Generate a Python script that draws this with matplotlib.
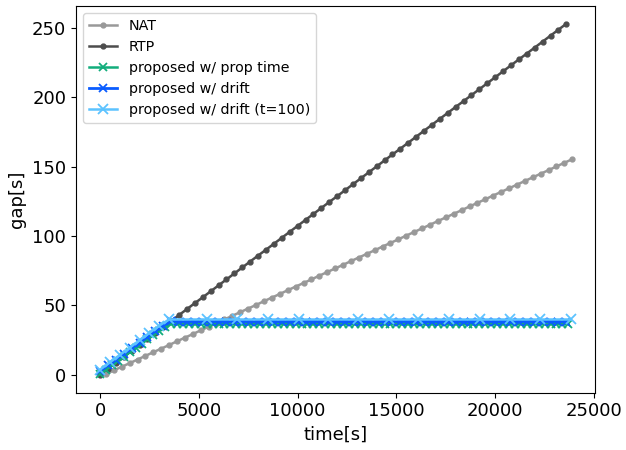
import matplotlib
matplotlib.use("Agg")
import matplotlib.pyplot as plt

# ---- data ----
rtp_t = [0, 400, 800, 1200, 1600, 2000, 2400, 2800, 3200, 3600, 4000, 4400, 4800, 5200, 5600,
         6000, 6400, 6800, 7200, 7600, 8000, 8400, 8800, 9200, 9600, 10000, 10400, 10800, 11200, 11600,
         12000, 12400, 12800, 13200, 13600, 14000, 14400, 14800, 15200, 15600, 16000, 16400, 16800, 17200, 17600,
         18000, 18400, 18800, 19200, 19600, 20000, 20400, 20800, 21200, 21600, 22000, 22400, 22800, 23200, 23600]
rtp_y = [0, 4.3, 8.6, 12.9, 17.2, 21.4, 25.7, 30.0, 34.3, 38.6, 42.9, 47.2, 51.5, 55.7, 60.0,
         64.3, 68.6, 72.9, 77.2, 81.5, 85.8, 90.0, 94.3, 98.6, 102.9, 107.2, 111.5, 115.8, 120.1, 124.4,
         128.6, 132.9, 137.2, 141.5, 145.8, 150.1, 154.4, 158.7, 162.9, 167.2, 171.5, 175.8, 180.1, 184.4, 188.7,
         193.0, 197.2, 201.5, 205.8, 210.1, 214.4, 218.7, 223.0, 227.3, 231.5, 235.8, 240.1, 244.4, 248.7, 253.0]

nat_t = [300, 700, 1100, 1500, 1900, 2300, 2700, 3100, 3500, 3900, 4300, 4700, 5100, 5500, 5900,
         6300, 6700, 7100, 7500, 7900, 8300, 8700, 9100, 9500, 9900, 10300, 10700, 11100, 11500, 11900,
         12300, 12700, 13100, 13500, 13900, 14300, 14700, 15100, 15500, 15900, 16300, 16700, 17100, 17500, 17900,
         18300, 18700, 19100, 19500, 19900, 20300, 20700, 21100, 21500, 21900, 22300, 22700, 23100, 23500, 23900]
nat_y = [0.3, 3.0, 5.6, 8.2, 10.8, 13.5, 16.1, 18.7, 21.3, 24.0, 26.6, 29.2, 31.9, 34.5, 37.1,
         39.7, 42.4, 45.0, 47.6, 50.2, 52.9, 55.5, 58.1, 60.8, 63.4, 66.0, 68.6, 71.3, 73.9, 76.5,
         79.1, 81.8, 84.4, 87.0, 89.6, 92.3, 94.9, 97.5, 100.2, 102.8, 105.4, 108.0, 110.7, 113.3, 115.9,
         118.5, 121.2, 123.8, 126.4, 129.1, 131.7, 134.3, 136.9, 139.6, 142.2, 144.8, 147.4, 150.1, 152.7, 155.3]

prop_t = [0, 300, 600, 900, 1200, 1500, 1800, 2100, 2400, 2700, 3000, 3300, 3600, 3900, 4200, 4500,
          4800, 5100, 5400, 5700, 6000, 6300, 6600, 6900, 7200, 7500, 7800, 8100, 8400, 8700, 9000,
          9300, 9600, 9900, 10200, 10500, 10800, 11100, 11400, 11700, 12000, 12300, 12600, 12900, 13200,
          13500, 13800, 14100, 14400, 14700, 15000, 15300, 15600, 15900, 16200, 16500, 16800, 17100, 17400,
          17700, 18000, 18300, 18600, 18900, 19200, 19500, 19800, 20100, 20400, 20700, 21000, 21300, 21600,
          21900, 22200, 22500, 22800, 23100, 23400, 23700]
prop_y = [0.5, 3.6, 6.7, 9.8, 12.9, 16.0, 19.1, 22.2, 25.3, 28.4, 31.5, 34.6, 36.5, 36.5, 36.6, 36.5,
          36.5, 36.6, 36.5, 36.5, 36.6, 36.5, 36.5, 36.6, 36.5, 36.5, 36.6, 36.5, 36.5, 36.6, 36.5,
          36.5, 36.6, 36.5, 36.5, 36.6, 36.5, 36.5, 36.6, 36.5, 36.5, 36.6, 36.5, 36.5, 36.6,
          36.5, 36.5, 36.6, 36.5, 36.5, 36.6, 36.5, 36.5, 36.6, 36.5, 36.5, 36.6, 36.5, 36.5,
          36.6, 36.5, 36.5, 36.6, 36.5, 36.5, 36.6, 36.5, 36.5, 36.6, 36.5, 36.5, 36.6, 36.5,
          36.5, 36.6, 36.5, 36.5, 36.6, 36.5, 36.5]

drift_t = [0, 400, 800, 1200, 1600, 2000, 2400, 2800, 3200, 3600, 4000, 4400, 4800, 5200, 5600,
           6000, 6400, 6800, 7200, 7600, 8000, 8400, 8800, 9200, 9600, 10000, 10400, 10800, 11200, 11600,
           12000, 12400, 12800, 13200, 13600, 14000, 14400, 14800, 15200, 15600, 16000, 16400, 16800, 17200, 17600,
           18000, 18400, 18800, 19200, 19600, 20000, 20400, 20800, 21200, 21600, 22000, 22400, 22800, 23200, 23600]
drift_y = [2.5, 6.6, 10.7, 14.8, 18.9, 23.0, 27.1, 31.2, 35.3, 38.3, 38.2, 38.2, 38.2, 38.2, 38.2,
           38.2, 38.2, 38.2, 38.2, 38.2, 38.2, 38.2, 38.2, 38.2, 38.2, 38.2, 38.2, 38.2, 38.2, 38.2,
           38.2, 38.2, 38.2, 38.2, 38.2, 38.2, 38.2, 38.2, 38.2, 38.2, 38.2, 38.2, 38.2, 38.2, 38.2,
           38.2, 38.2, 38.2, 38.2, 38.2, 38.2, 38.2, 38.2, 38.2, 38.2, 38.2, 38.2, 38.2, 38.2, 38.2]

drift100_t = [0, 500, 1000, 1500, 2000, 2500, 3000, 3500, 5400, 6950, 8500, 10050, 11550,
              13070, 14600, 16100, 17680, 19230, 20750, 22270, 23820]
drift100_y = [3.5, 8.8, 14.1, 19.4, 24.7, 30.0, 35.3, 39.7, 39.7, 39.7, 39.7, 39.7, 39.7,
              39.7, 39.7, 39.7, 39.7, 39.7, 39.7, 39.7, 39.7]

labels = ["NAT", "RTP", "proposed w/ prop time", "proposed w/ drift", "proposed w/ drift (t=100)"]

# ---- plot ----
fig = plt.figure(figsize=(6.26, 4.5), dpi=100)
ax = fig.add_axes([76/626, 1 - 392.7/450, (595 - 76)/626, (392.7 - 5.7)/450])

ax.plot(nat_t, nat_y, color="#999999", marker="o", ms=3.5, lw=1.8, label=labels[0])
ax.plot(rtp_t, rtp_y, color="#4d4d4d", marker="o", ms=3.5, lw=1.8, label=labels[1])
ax.plot(prop_t, prop_y, color="#12ad7c", marker="x", ms=6, mew=1.3, lw=1.8, label=labels[2])
ax.plot(drift_t, drift_y, color="#0a5cff", marker="x", ms=6, mew=1.3, lw=2.0, label=labels[3])
ax.plot(drift100_t, drift100_y, color="#5cc3ff", marker="x", ms=6.5, mew=1.3, lw=1.8, label=labels[4])

ax.set_xlim(-1215, 25050)
ax.set_ylim(-13.1, 266)
ax.set_xticks([0, 5000, 10000, 15000, 20000, 25000])
ax.set_yticks([0, 50, 100, 150, 200, 250])
ax.tick_params(labelsize=13)
ax.set_xlabel("time[s]", fontsize=13)
ax.set_ylabel("gap[s]", fontsize=13)
ax.legend(loc="upper left", fontsize=10.3)

fig.savefig("out.png", dpi=100)
